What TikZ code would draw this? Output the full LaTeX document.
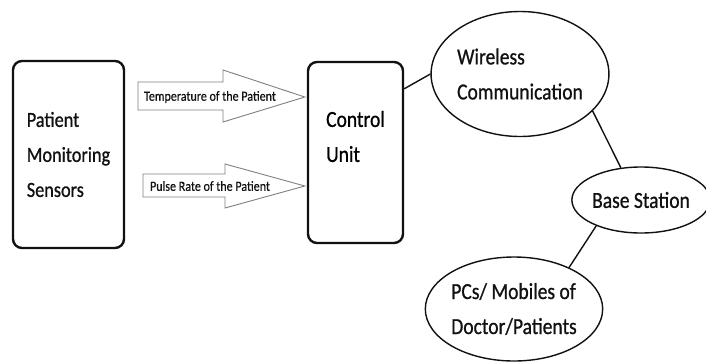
\documentclass[tikz,border=0pt]{standalone}
\usepackage{fontspec}
\setmainfont{Carlito}[FakeStretch=0.85, FakeBold=0.8]
\newfontfamily\narrowfont[FakeStretch=0.86, FakeBold=0.4]{Carlito}
\usetikzlibrary{positioning,shapes.geometric}
\definecolor{diagInk}{HTML}{111111}
\definecolor{diagArrowLine}{HTML}{808080}
\tikzset{
  diagBox/.style={
    draw=diagInk,
    line width=2.4pt,
    rounded corners=9pt,
    fill=white,
    inner sep=0pt,
    align=left,
    text=diagInk
  },
  diagEllipse/.style={ellipse, draw=diagInk, line width=1.4pt,
    inner sep=0pt, align=left, text=diagInk},
  diagLink/.style={line width=1.4pt, draw=diagInk},
  diagBlock/.style={draw=diagArrowLine, line width=0.9pt, fill=white,
    line join=miter},
  diagNote/.style={font=\narrowfont\fontsize{14}{16}\selectfont,
    text=diagInk, inner sep=0pt}
}

\begin{document}
\begin{tikzpicture}[x=1pt, y=-1pt, font=\fontsize{23}{35}\selectfont]
    \fill[white] (0,0) rectangle (706,362);
    \useasboundingbox (0,0) rectangle (706,362);

    \node[diagBox, minimum width=111pt, minimum height=187pt,
      font=\fontsize{21.5}{35}\selectfont]
      (sensors) at (68.5,154.5) {Patient\\Monitoring\\Sensors};
    \node[diagBox, minimum width=95pt, minimum height=181pt]
      (unit) at (355.5,152.5) {};
    \node[inner sep=0pt, align=left] (unitText)
      at ([yshift=16pt]unit.center) {Control\\Unit};

    \node[diagEllipse, minimum width=166pt, minimum height=125pt]
      (wireless) at (520,74) {Wireless\\Communication};
    \node[diagEllipse, minimum width=118pt, minimum height=66pt]
      (base) at (641,200) {Base Station};
    \node[diagEllipse, minimum width=174pt, minimum height=104pt]
      (pcs) at (514,309) {PCs/ Mobiles of\\Doctor/Patients};

    % block arrows into the control unit
    \node[diagNote] (tempNote) at (210,97) {};
    \node[diagNote] (pulseNote) at (210,186) {};
    \draw[diagBlock] (138,82) -- (223,82) -- (223,70)
      -- ([xshift=-2pt]unit.west |- tempNote.center)
      -- (223,122) -- (223,110) -- (138,110) -- cycle;
    \draw[diagBlock] (143,174) -- (225,174) -- (225,164)
      -- ([xshift=-2pt]unit.west |- pulseNote.center)
      -- (225,208) -- (225,197) -- (143,197) -- cycle;
    \node[diagNote] at (tempNote) {Temperature of the Patient};
    \node[diagNote] at (pulseNote) {Pulse Rate of the Patient};

    \draw[diagLink] ([yshift=-28pt]unit.north east) -- (wireless.west);
    \draw[diagLink] (wireless.-27) -- (base.122);
    \draw[diagLink] (base.210) -- (pcs.37);
\end{tikzpicture}
\end{document}
